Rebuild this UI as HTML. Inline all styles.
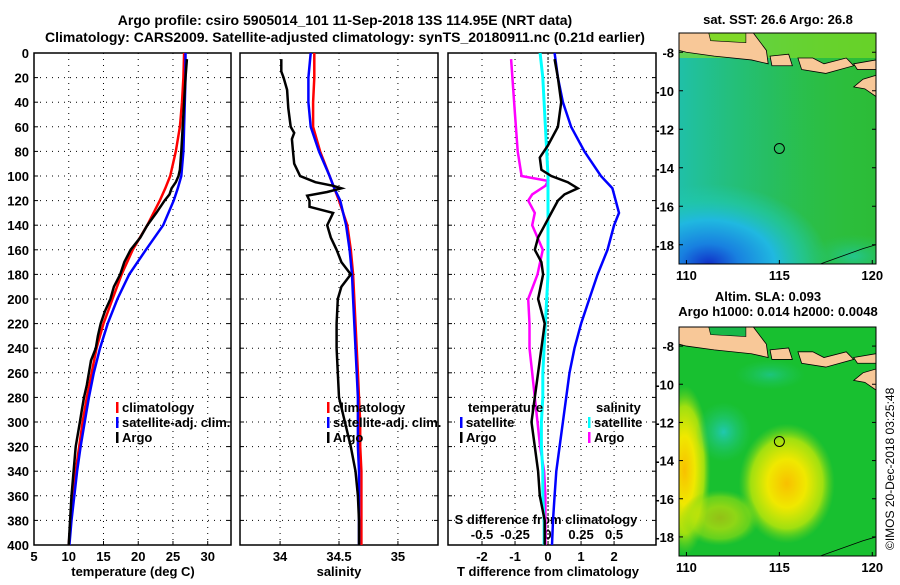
<!DOCTYPE html>
<html><head><meta charset="utf-8">
<style>
body{margin:0;background:#fff;width:900px;height:580px;overflow:hidden}
svg text{font-family:"Liberation Sans",sans-serif;font-weight:bold;font-size:13px;fill:#000}
</style></head>
<body>
<svg id="c" width="900" height="580" xmlns="http://www.w3.org/2000/svg">
<defs>
<radialGradient id="sstBlue" cx="0.5" cy="0.5" r="0.5"><stop offset="0" stop-color="#1030c8"/><stop offset="0.25" stop-color="#1880e0"/><stop offset="0.55" stop-color="#20b8e0"/><stop offset="0.8" stop-color="#20c8b0" stop-opacity="0.6"/><stop offset="1" stop-color="#20c8b0" stop-opacity="0"/></radialGradient>
<linearGradient id="sstLeft" x1="0" x2="1" y1="0" y2="0"><stop offset="0" stop-color="#20c0a8"/><stop offset="0.45" stop-color="#22c080" stop-opacity="0.6"/><stop offset="1" stop-color="#30c840" stop-opacity="0"/></linearGradient>
<radialGradient id="slaY" cx="0.5" cy="0.5" r="0.5"><stop offset="0" stop-color="#f8c000"/><stop offset="0.4" stop-color="#f0e800"/><stop offset="0.75" stop-color="#a0e010"/><stop offset="1" stop-color="#60d020" stop-opacity="0"/></radialGradient>
<radialGradient id="slaC" cx="0.5" cy="0.5" r="0.5"><stop offset="0" stop-color="#20c8b0"/><stop offset="1" stop-color="#20c870" stop-opacity="0"/></radialGradient>
</defs>
<text x="345" y="25" text-anchor="middle" style="font-size:14px">Argo profile: csiro 5905014_101 11-Sep-2018 13S 114.95E (NRT data)</text>
<text x="345" y="42" text-anchor="middle" style="font-size:14px">Climatology: CARS2009. Satellite-adjusted climatology: synTS_20180911.nc (0.21d earlier)</text>
<g id="g"></g>
<text transform="translate(894,550) rotate(-90)" style="font-weight:normal;font-size:12px">©IMOS 20-Dec-2018 03:25:48</text>
</svg>
<script>
// ---------- data ----------
const depthTicks=[0,20,40,60,80,100,120,140,160,180,200,220,240,260,280,300,320,340,360,380,400];
const tTicks=[5,10,15,20,25,30];
const sTicks=[34,34.5,35];
const dTicks=[-2,-1,0,1,2];
const sdTicks=[-0.5,-0.25,0,0.25,0.5];
const sdTickLabels=["-0.5","-0.25","0","0.25","0.5"];
const tClimDepth=[0,20,40,60,80,100,110,120,140,160,180,200,220,240,260,280,300,320,340,360,380,400];
const tClim=[26.6,26.5,26.3,26.0,25.4,24.6,23.9,23.1,21.3,19.2,17.6,16.3,15.0,14.0,13.3,12.6,12.0,11.5,11.0,10.6,10.3,10.0];
const tSat=[26.8,26.8,26.7,26.6,26.5,26.2,25.7,25.1,23.6,21.1,18.7,17.0,15.6,14.5,13.6,12.9,12.3,11.7,11.2,10.8,10.4,10.1];
const tArgoDepth=[5,20,40,60,80,95,100,105,110,115,120,130,140,150,160,170,180,190,200,210,220,230,240,250,260,270,280,290,300,320,340,360,380,400];
const tArgo=[27.0,26.8,26.6,26.4,26.2,26.0,25.8,25.4,24.8,24.5,23.8,22.6,21.3,20.3,18.9,18.0,17.4,16.5,16.0,15.2,14.6,14.2,13.9,13.2,12.9,12.6,12.2,11.9,11.6,11.0,10.7,10.4,10.2,10.0];
const sClim=[34.29,34.29,34.28,34.28,34.34,34.42,34.46,34.50,34.57,34.60,34.62,34.63,34.64,34.65,34.66,34.67,34.68,34.68,34.69,34.69,34.69,34.69];
const sSat=[34.26,34.24,34.24,34.26,34.33,34.42,34.46,34.51,34.56,34.59,34.61,34.62,34.63,34.64,34.65,34.66,34.66,34.66,34.67,34.67,34.67,34.67];
const sArgoDepth=[5,15,20,30,45,60,65,70,80,90,100,105,108,110,113,116,120,125,130,140,150,160,170,175,180,190,200,220,240,260,280,300,320,340,360,380,400];
const sArgo=[34.01,34.01,34.03,34.06,34.07,34.09,34.12,34.10,34.11,34.12,34.17,34.30,34.45,34.52,34.40,34.23,34.25,34.25,34.45,34.40,34.43,34.48,34.52,34.56,34.60,34.52,34.49,34.48,34.48,34.49,34.50,34.55,34.60,34.64,34.66,34.67,34.67];
const diffDepth=[0,20,40,60,80,100,110,120,130,140,160,180,200,220,240,260,280,300,320,340,360,380,400];
const dTSat=[0.2,0.3,0.45,0.7,1.1,1.6,1.95,2.05,2.15,2.0,1.8,1.5,1.25,1.0,0.8,0.65,0.55,0.45,0.35,0.25,0.2,0.15,0.12];
const dTArgoDepth=[5,20,40,60,75,85,95,100,105,110,115,120,130,140,150,160,170,180,200,220,240,260,280,300,320,340,360,380,400];
const dTArgo=[0.2,0.3,0.4,0.3,0.0,-0.25,-0.2,0.1,0.6,0.9,0.5,0.3,0.1,-0.1,-0.3,-0.4,-0.2,-0.15,-0.3,-0.1,-0.2,-0.3,-0.4,-0.5,-0.4,-0.3,-0.25,-0.1,-0.1];
const dSSat=[-0.06,-0.04,-0.03,-0.02,-0.01,0,0,0,0,0,0,0,-0.01,-0.02,-0.03,-0.04,-0.04,-0.05,-0.05,-0.04,-0.04,-0.03,-0.03];
const dSArgoDepth=[5,20,50,80,100,104,108,115,120,130,140,150,160,170,180,200,220,240,260,280,300,320,340,360,380,400];
const dSArgo=[-0.28,-0.27,-0.25,-0.23,-0.2,0.0,-0.02,-0.12,-0.15,-0.1,-0.12,-0.08,-0.04,-0.06,-0.08,-0.15,-0.14,-0.14,-0.12,-0.1,-0.08,-0.06,-0.03,-0.02,-0.02,-0.02];
const mapLonTicks=[110,115,120];
const mapLatTicks=[-8,-10,-12,-14,-16,-18];

const NS='http://www.w3.org/2000/svg',G=document.getElementById('g');
function el(t,a,p){const e=document.createElementNS(NS,t);for(const k in a)e.setAttribute(k,a[k]);(p||G).appendChild(e);return e;}
const Y0=53,Y1=545;
const yD=d=>Y0+d*(Y1-Y0)/400;
const panels=[{x0:34,x1:231,v0:5,v1:33.35},{x0:240,x1:438,v0:33.66,v1:35.34},{x0:448,x1:656,v0:-3.03,v1:3.27}];
panels.forEach(p=>p.f=v=>p.x0+(v-p.v0)*(p.x1-p.x0)/(p.v1-p.v0));
function line(xs,ds,f,col,name,w){
  const pts=xs.map((v,i)=>f(v).toFixed(1)+','+yD(ds[i]).toFixed(1)).join(' ');
  const e=el('polyline',{points:pts,fill:'none',stroke:col,'stroke-width':w||2.5});
  
  
}
function frame(p,ticks,labels,name){
  const g=el('g',{});
  
  
  depthTicks.forEach(d=>{if(d>0&&d<400)el('line',{x1:p.x0,x2:p.x1,y1:yD(d),y2:yD(d),stroke:'#000','stroke-dasharray':'1,5'},g);
    el('line',{x1:p.x0,x2:p.x0+4,y1:yD(d),y2:yD(d),stroke:'#000'},g);el('line',{x1:p.x1,x2:p.x1-4,y1:yD(d),y2:yD(d),stroke:'#000'},g);});
  ticks.forEach((t,i)=>{const x=p.f(t);el('line',{x1:x,x2:x,y1:Y0,y2:Y1,stroke:'#000','stroke-dasharray':'1,5'},g);
    el('line',{x1:x,x2:x,y1:Y1,y2:Y1-4,stroke:'#000'},g);
    const tx=el('text',{x:x,y:Y1+16,'text-anchor':'middle'},g);tx.textContent=labels[i];});
  el('rect',{x:p.x0,y:Y0,width:p.x1-p.x0,height:Y1-Y0,fill:'none',stroke:'#000','stroke-width':1.5},g);
}
frame(panels[0],tTicks,tTicks.map(String),'temperature-panel');
frame(panels[1],sTicks,sTicks.map(String),'salinity-panel');
frame(panels[2],dTicks,dTicks.map(String),'difference-panel');
depthTicks.forEach(d=>{const t=el('text',{x:29,y:yD(d)+5,'text-anchor':'end'});t.textContent=d;

});
const p3=panels[2];
sdTicks.forEach((s,i)=>{const t=el('text',{x:p3.f(s*4),y:539,'text-anchor':'middle'});t.textContent=sdTickLabels[i];

});
function txt(x,y,s,name,anchor){const t=el('text',{x:x,y:y,'text-anchor':anchor||'start'});t.textContent=s;

return t;}
txt(546,524,'S difference from climatology','s-diff-axis-title','middle');
txt(133,576,'temperature (deg C)','x-axis-title-temperature','middle');
txt(339,576,'salinity','x-axis-title-salinity','middle');
txt(548,576,'T difference from climatology','x-axis-title-tdiff','middle');
const P0=panels[0].f,P1=panels[1].f,P2=panels[2].f,PS=v=>P2(v*4);
line(tClim,tClimDepth,P0,'#f00','temp-climatology-line');
line(tSat,tClimDepth,P0,'#00f','temp-satellite-line');
line(tArgo,tArgoDepth,P0,'#000','temp-argo-line');
line(sClim,tClimDepth,P1,'#f00','sal-climatology-line');
line(sSat,tClimDepth,P1,'#00f','sal-satellite-line');
line(sArgo,sArgoDepth,P1,'#000','sal-argo-line');
el('line',{x1:P2(0),x2:P2(0),y1:Y0,y2:Y1,stroke:'#000','stroke-dasharray':'2,2'});
line(dSArgo,dSArgoDepth,PS,'#f0f','sdiff-argo-line');
line(dSSat,diffDepth,PS,'#0ff','sdiff-satellite-line',3);
line(dTSat,diffDepth,P2,'#00f','tdiff-satellite-line');
line(dTArgo,dTArgoDepth,P2,'#000','tdiff-argo-line');
function leg(x,y,col,s,name){const g=el('g',{});
 if(col)el('rect',{x:x,y:y-10,width:2.5,height:11,fill:col},g);const t=el('text',{x:x+6,y:y},g);t.textContent=s;}
leg(116,412,'#f00','climatology','legend-climatology');leg(116,427,'#00f','satellite-adj. clim.','legend-satellite');leg(116,442,'#000','Argo','legend-argo');
leg(327,412,'#f00','climatology','legend-sal-climatology');leg(327,427,'#00f','satellite-adj. clim.','legend-sal-satellite');leg(327,442,'#000','Argo','legend-sal-argo');
leg(462,412,null,'temperature','legend-temperature-header');leg(460,427,'#00f','satellite','legend-tdiff-satellite');leg(460,442,'#000','Argo','legend-tdiff-argo');
leg(590,412,null,'salinity','legend-salinity-header');leg(588,427,'#0ff','satellite','legend-sdiff-satellite');leg(588,442,'#f0f','Argo','legend-sdiff-argo');
function map(y0,y1,name,kind){
 const X0=679,X1=876,lx=v=>X0+(v-109.6)*(X1-X0)/(120.2-109.6),ly=v=>y0+(-7-v)*(y1-y0)/12;
 const g=el('g',{});
 const cp='clip'+kind;const c=el('clipPath',{id:cp},g);el('rect',{x:X0,y:y0,width:X1-X0,height:y1-y0},c);
 const m=el('g',{'clip-path':'url(#'+cp+')'},g);
 if(kind==='sst'){el('rect',{x:X0,y:y0,width:X1-X0,height:y1-y0,fill:'#2cbc38'},m);
  el('rect',{x:X0,y:y0,width:X1-X0,height:y1-y0,fill:'url(#sstLeft)'},m);
  el('ellipse',{cx:lx(111.2),cy:ly(-19),rx:120,ry:80,fill:'url(#sstBlue)'},m);
  el('ellipse',{cx:lx(119),cy:ly(-18.6),rx:45,ry:22,fill:'url(#slaC)',opacity:0.7},m);
  el('rect',{x:X0,y:y0,width:X1-X0,height:25,fill:'#90e020',opacity:0.6},m);
 }else{el('rect',{x:X0,y:y0,width:X1-X0,height:y1-y0,fill:'#18c030'},m);
  el('ellipse',{cx:lx(115.4),cy:ly(-15.2),rx:48,ry:60,fill:'url(#slaY)'},m);
  el('ellipse',{cx:lx(109.9),cy:ly(-14.5),rx:26,ry:85,fill:'url(#slaY)'},m);
  el('ellipse',{cx:lx(111.8),cy:ly(-17),rx:40,ry:28,fill:'url(#slaY)',opacity:0.55},m);
  el('ellipse',{cx:lx(112),cy:ly(-12.5),rx:28,ry:30,fill:'url(#slaC)'},m);
  el('ellipse',{cx:lx(114.5),cy:ly(-9.5),rx:35,ry:15,fill:'url(#slaC)',opacity:0.6},m);
 }
 const L={fill:'#f8c898',stroke:'#000','stroke-width':0.8};
 el('path',Object.assign({d:`M${X0},${y0} L${lx(113.6)},${y0} L${lx(114.3)},${ly(-7.9)} L${lx(114.4)},${ly(-8.6)} L${lx(113.5)},${ly(-8.4)} L${lx(111.5)},${ly(-8.2)} L${lx(110)},${ly(-8.0)} L${X0},${ly(-7.9)} Z`},L),m);
 el('path',{d:`M${lx(111.2)},${y0} L${lx(113.2)},${y0} L${lx(113.2)},${ly(-7.5)} L${lx(111.3)},${ly(-7.4)} Z`,fill:kind==='sst'?'#80d828':'#18b848',stroke:'#000','stroke-width':0.6},m);
 el('path',Object.assign({d:`M${lx(114.5)},${ly(-8.2)} L${lx(115.5)},${ly(-8.1)} L${lx(115.7)},${ly(-8.7)} L${lx(114.6)},${ly(-8.7)} Z`},L),m);
 el('path',Object.assign({d:`M${lx(116)},${ly(-8.3)} L${lx(116.8)},${ly(-8.3)} L${lx(117.4)},${ly(-8.6)} L${lx(118.6)},${ly(-8.3)} L${lx(119)},${ly(-8.7)} L${lx(117.5)},${ly(-9.1)} L${lx(116.2)},${ly(-8.9)} Z`},L),m);
 el('path',Object.assign({d:`M${lx(119)},${ly(-8.6)} L${X1},${ly(-8.4)} L${X1},${ly(-8.9)} L${lx(119.2)},${ly(-8.9)} Z`},L),m);
 el('path',Object.assign({d:`M${lx(119)},${ly(-9.8)} L${lx(119.5)},${ly(-9.4)} L${X1},${ly(-9.2)} L${X1},${ly(-10.3)} L${lx(119.6)},${ly(-9.9)} Z`},L),m);
 el('path',{d:`M${lx(117.2)},${y1} L${lx(119.5)},${ly(-18.2)} L${X1},${ly(-18.0)}`,fill:'none',stroke:'#000','stroke-width':0.8},m);
 el('circle',{cx:lx(115),cy:ly(-13),r:5,fill:'none',stroke:'#000'},g);
 el('rect',{x:X0,y:y0,width:X1-X0,height:y1-y0,fill:'none',stroke:'#000'},g);
 mapLatTicks.forEach(v=>{el('line',{x1:X0,x2:X0+4,y1:ly(v),y2:ly(v),stroke:'#000'},g);el('line',{x1:X1,x2:X1-4,y1:ly(v),y2:ly(v),stroke:'#000'},g);
  const t=el('text',{x:X0-5,y:ly(v)+5,'text-anchor':'end'},g);t.textContent=v;});
 mapLonTicks.forEach(v=>{el('line',{x1:lx(v),x2:lx(v),y1:y1,y2:y1-4,stroke:'#000'},g);
  const t=el('text',{x:lx(v),y:y1+16,'text-anchor':'middle'},g);t.textContent=v;});
}
map(33,264,'sst-map','sst');
map(327,556,'sla-map','sla');
txt(778,24,'sat. SST: 26.6 Argo: 26.8','sst-map-title','middle');
txt(768,301,'Altim. SLA: 0.093','sla-map-title','middle');
txt(778,316,'Argo h1000: 0.014 h2000: 0.0048','sla-map-subtitle','middle');
</script>
</body></html>
